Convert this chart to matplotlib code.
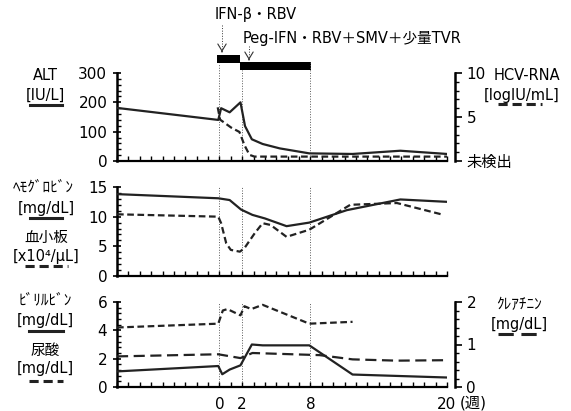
import matplotlib.pyplot as plt
from matplotlib.lines import Line2D
from matplotlib.ticker import MultipleLocator, FixedLocator

plt.rcParams['font.family'] = ['DejaVu Sans', 'Noto Sans CJK JP']
plt.rcParams['font.size'] = 10

# --- data (weeks from start of treatment) ---
alt_wk = [-9, -0.1, 0.15, 0.9, 1.85, 2.25, 2.85, 3.8, 5.3, 7.9, 11.7, 15.9, 20]
alt = [181, 140, 180, 166, 200, 119, 74, 58, 43, 26, 24, 35, 24]

hcv_wk = [-0.15, 0.06, 1.03, 1.76, 2.2, 2.64, 3.08, 20]
hcv = [6.1, 4.7, 3.8, 3.3, 1.8, 0.7, 0.5, 0.5]

hb_wk = [-9, -0.1, 0.9, 1.9, 2.9, 4.0, 5.9, 7.9, 11.2, 15.9, 20]
hb = [13.8, 13.1, 12.8, 11.2, 10.3, 9.7, 8.4, 9.0, 11.1, 12.9, 12.5]

plt_wk = [-9, -0.1, 0.15, 0.6, 1.0, 1.8, 2.2, 3.1, 3.8, 4.5, 5.9, 7.9, 11.5, 15.6, 19.7]
plt_cnt = [10.4, 10.0, 8.9, 5.5, 4.4, 4.1, 4.7, 7.2, 8.9, 8.6, 6.6, 7.8, 12.0, 12.3, 10.3]

bil_wk = [-9, -0.1, 0.25, 0.9, 1.85, 2.85, 3.8, 7.9, 11.7, 20]
bil = [1.1, 1.48, 0.9, 1.23, 1.53, 3.0, 2.94, 2.94, 0.88, 0.67]

uric_wk = [-9, -0.1, 0.3, 0.7, 1.85, 2.2, 2.8, 3.8, 7.9, 11.7]
uric = [4.2, 4.47, 5.4, 5.5, 5.06, 5.7, 5.5, 5.8, 4.47, 4.6]

cre_wk = [-9, -0.1, 1.85, 2.9, 8.8, 11.7, 15.6, 19.7]
cre = [0.72, 0.77, 0.68, 0.8, 0.75, 0.65, 0.62, 0.63]

tx_start = [-0.2, 1.85]
tx_end = [1.85, 8.05]
tx_names = ['IFN-β・RBV', 'Peg-IFN・RBV＋SMV＋少量TVR']

event_weeks = [0, 2, 8]
xtick_weeks = [0, 2, 8, 20]
xtick_labels = ['0', '2', '8', '20']

W, H = 571, 411
fig = plt.figure(figsize=(W / 100, H / 100), dpi=100)


def fx(x):
    return x / W


def fy(y):
    return 1 - y / H


L, R = 117, 447
ax1 = fig.add_axes([fx(L), fy(161), (R - L) / W, 88 / H])
ax2 = fig.add_axes([fx(L), fy(276), (R - L) / W, 89 / H])
ax3 = fig.add_axes([fx(L), fy(387), (R - L) / W, 85 / H])


def style(ax, ymax, major, minor):
    ax.set_xlim(-9, 20)
    ax.set_ylim(0, ymax)
    for s in ['top', 'right']:
        ax.spines[s].set_visible(False)
    ax.spines['left'].set_linewidth(1.8)
    ax.spines['bottom'].set_linewidth(1.6)
    ax.yaxis.set_major_locator(MultipleLocator(major))
    ax.yaxis.set_minor_locator(MultipleLocator(minor))
    ax.tick_params(axis='y', which='major', direction='inout', length=6, width=1.2, pad=4, labelsize=11)
    ax.tick_params(axis='y', which='minor', direction='in', length=3, width=1)
    ax.xaxis.set_major_locator(FixedLocator(xtick_weeks))
    ax.xaxis.set_minor_locator(MultipleLocator(1))
    ax.tick_params(axis='x', which='both', direction='in', length=3.5, width=1, pad=7, labelsize=11)
    ax.set_xticklabels([])


def style_right(ax, ymax, major, minor):
    ax.set_ylim(0, ymax)
    for s in ['top', 'left', 'bottom']:
        ax.spines[s].set_visible(False)
    ax.spines['right'].set_position(('outward', 6))
    ax.spines['right'].set_linewidth(1.8)
    ax.yaxis.set_major_locator(MultipleLocator(major))
    ax.yaxis.set_minor_locator(MultipleLocator(minor))
    ax.tick_params(axis='y', which='major', direction='out', length=5, width=1.2, pad=3, labelsize=11)
    ax.tick_params(axis='y', which='minor', direction='out', length=3, width=1)


style(ax1, 300, 100, 20)
style(ax2, 15, 5, 1)
style(ax3, 6, 2, 0.4)
ax3.set_xticklabels(xtick_labels)

# top panel: ALT and HCV-RNA
ax1.plot(alt_wk, alt, color='#222222', lw=1.6, zorder=3)
ax1r = ax1.twinx()
style_right(ax1r, 10, 5, 1)
ax1r.set_yticks([0, 5, 10])
ax1r.set_yticklabels(['未検出', '5', '10'])
ax1r.plot(hcv_wk, hcv, color='#222222', lw=1.6, dashes=(3, 1.6), zorder=3)

# treatment bars above the top panel
bar_y = [348, 324]
for s, e, yb in zip(tx_start, tx_end, bar_y):
    ax1.barh(yb, e - s, left=s, height=27, color='black', clip_on=False)

vl_top = [334, 310, 337]
for w, t in zip(event_weeks, vl_top):
    ax1.vlines(w, 0, t, colors='0.35', lw=0.7, linestyles=':', clip_on=False, zorder=1)
for ax, top in [(ax2, 15), (ax3, 6)]:
    ax.vlines(event_weeks, 0, top, colors='0.35', lw=0.7, linestyles=':', zorder=1)

# middle panel: hemoglobin and platelets
ax2.plot(hb_wk, hb, color='#222222', lw=1.6, zorder=3)
ax2.plot(plt_wk, plt_cnt, color='#222222', lw=1.6, dashes=(3, 1.6), zorder=3)

# bottom panel: bilirubin, uric acid, creatinine
ax3.plot(bil_wk, bil, color='#222222', lw=1.6, zorder=3)
ax3.plot(uric_wk, uric, color='#222222', lw=1.6, dashes=(3, 1.6), zorder=3)
ax3r = ax3.twinx()
style_right(ax3r, 2, 1, 0.2)
ax3r.plot(cre_wk, cre, color='#222222', lw=1.6, dashes=(5, 2.5), zorder=3)
fig.text(fx(460), fy(403), '(週)', ha='left', va='center', fontsize=11)

# treatment annotations
fig.text(fx(215), fy(15), tx_names[0], ha='left', va='center', fontsize=10.5)
fig.text(fx(243), fy(38), tx_names[1], ha='left', va='center', fontsize=10.5)
for x, y0, y1 in [(222, 25, 52), (249, 46, 60)]:
    fig.add_artist(Line2D([fx(x), fx(x)], [fy(y0), fy(y1 - 2)], color='0.2', lw=0.7, ls=':'))
    ax1.annotate('', xy=(fx(x), fy(y1)), xytext=(fx(x), fy(y1 - 3)),
                 xycoords='figure fraction', textcoords='figure fraction',
                 arrowprops=dict(arrowstyle='->, head_length=0.5, head_width=0.3', lw=0.8, color='0.2'))

# axis labels with line samples
labels = [
    ('ALT', 45, 75, 10.5), ('[IU/L]', 45, 95, 10.5),
    ('HCV-RNA', 527, 76, 10.5), ('[logIU/mL]', 522, 95, 10.5),
    ('ﾍﾓｸﾞﾛﾋﾞﾝ', 43, 187, 11), ('[mg/dL]', 46, 208, 10.5),
    ('血小板', 46, 237, 10.5), ('[x10⁴/μL]', 46, 256, 10.5),
    ('ﾋﾞﾘﾙﾋﾞﾝ', 45, 300, 11), ('[mg/dL]', 45, 320, 10.5),
    ('尿酸', 45, 350, 10.5), ('[mg/dL]', 45, 368, 10.5),
    ('ｸﾚｱﾁﾆﾝ', 519, 305, 11), ('[mg/dL]', 519, 324, 10.5),
]
for txt, x, y, fs in labels:
    fig.text(fx(x), fy(y), txt, ha='center', va='center', fontsize=fs)

samples = [
    (30, 62, 105, None), (498, 542, 104, (3, 1.6)),
    (30, 62, 218, None), (25, 68, 266, (3, 1.6)),
    (29, 63, 331, None), (29, 63, 381, (3, 1.6)),
    (498, 542, 334, (5, 2.5)),
]
for x0, x1, y, d in samples:
    ln = Line2D([fx(x0), fx(x1)], [fy(y), fy(y)], color='#222222', lw=2.2)
    if d is not None:
        ln.set_dashes(d)
    fig.add_artist(ln)

plt.savefig('out.png', dpi=100)
plt.close()
